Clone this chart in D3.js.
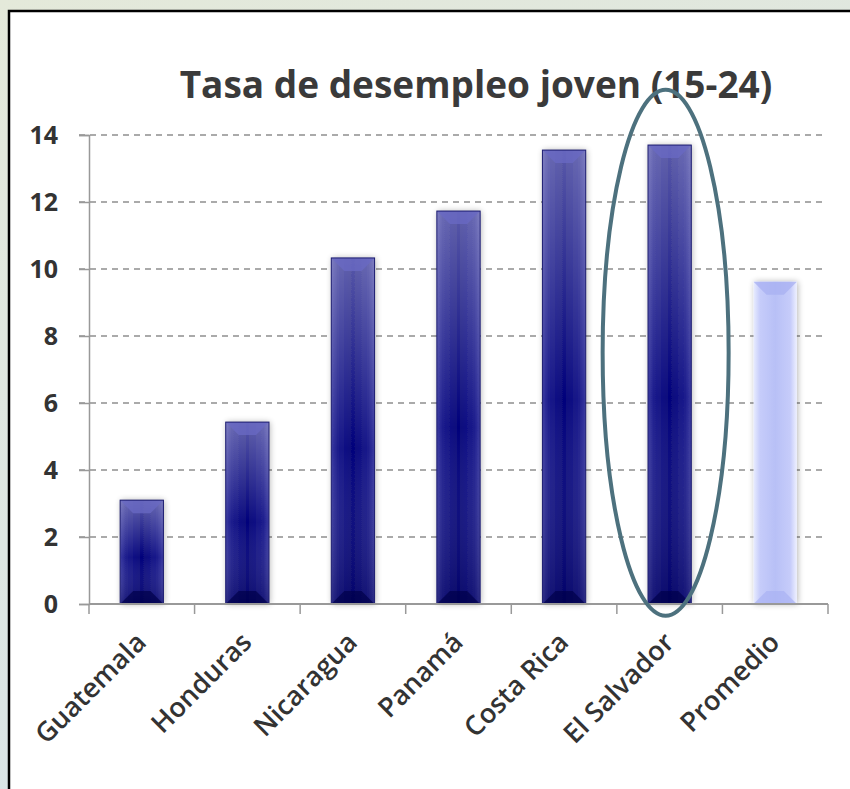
<!DOCTYPE html>
<html>
<head>
<meta charset="utf-8">
<script src="https://cdn.jsdelivr.net/npm/d3@7"></script>
<style>
  html, body { margin: 0; padding: 0; }
  body { width: 850px; height: 789px; overflow: hidden;
    background: linear-gradient(160deg, #e4e9da 0%, #dde6e2 50%, #d6e3ea 100%); }
  svg { display: block; }
</style>
</head>
<body>
<div id="chart-area"></div>
<script>
// data
const countries = ["Guatemala", "Honduras", "Nicaragua", "Panamá", "Costa Rica", "El Salvador", "Promedio"]
const rates = [3.1, 5.43, 10.33, 11.73, 13.55, 13.7, 9.62]
const yTicks = [0, 2, 4, 6, 8, 10, 12, 14]
const highlight = "El Salvador"

const W = 850, H = 789
const MARGIN = { LEFT: 89, RIGHT: 22, TOP: 135, BOTTOM: 185 }
const WIDTH = W - MARGIN.LEFT - MARGIN.RIGHT
const HEIGHT = H - MARGIN.TOP - MARGIN.BOTTOM

const svg = d3.select("#chart-area").append("svg")
	.attr("width", W)
	.attr("height", H)

const defs = svg.append("defs")

// bar gradients (dark navy bevel)
const gH = defs.append("linearGradient").attr("id", "barH")
gH.append("stop").attr("offset", "0%").attr("stop-color", "#3a3aa0")
gH.append("stop").attr("offset", "14%").attr("stop-color", "#1c1c8c")
gH.append("stop").attr("offset", "50%").attr("stop-color", "#04047a")
gH.append("stop").attr("offset", "86%").attr("stop-color", "#1c1c8c")
gH.append("stop").attr("offset", "100%").attr("stop-color", "#3a3aa0")

const gV = defs.append("linearGradient").attr("id", "barV")
	.attr("x1", 0).attr("y1", 0).attr("x2", 0).attr("y2", 1)
gV.append("stop").attr("offset", "0%").attr("stop-color", "#ffffff").attr("stop-opacity", 0.35)
gV.append("stop").attr("offset", "55%").attr("stop-color", "#ffffff").attr("stop-opacity", 0.0)
gV.append("stop").attr("offset", "100%").attr("stop-color", "#000030").attr("stop-opacity", 0.25)

const gP = defs.append("linearGradient").attr("id", "barP")
gP.append("stop").attr("offset", "0%").attr("stop-color", "#e8ecff")
gP.append("stop").attr("offset", "15%").attr("stop-color", "#c6ccfa")
gP.append("stop").attr("offset", "50%").attr("stop-color", "#b8c0f6")
gP.append("stop").attr("offset", "85%").attr("stop-color", "#c6ccfa")
gP.append("stop").attr("offset", "100%").attr("stop-color", "#eef0ff")

const shadow = defs.append("filter").attr("id", "shadow")
	.attr("x", "-30%").attr("y", "-5%").attr("width", "160%").attr("height", "110%")
shadow.append("feGaussianBlur").attr("in", "SourceAlpha").attr("stdDeviation", 3)
shadow.append("feOffset").attr("dx", 1).attr("dy", 0).attr("result", "b")
shadow.append("feComponentTransfer").append("feFuncA").attr("type", "linear").attr("slope", 0.3)
const merge = shadow.append("feMerge")
merge.append("feMergeNode")
merge.append("feMergeNode").attr("in", "SourceGraphic")

// white panel with black frame
svg.append("rect")
	.attr("x", 9).attr("y", 11)
	.attr("width", W + 20).attr("height", H + 20)
	.attr("fill", "#fff")
	.attr("stroke", "#000")
	.attr("stroke-width", 2.5)

const FONT = "'Open Sans', Lato, sans-serif"

// title
svg.append("text")
	.attr("x", 476).attr("y", 98)
	.attr("text-anchor", "middle")
	.attr("font-family", FONT)
	.attr("font-weight", "bold")
	.attr("font-size", 37)
	.attr("fill", "#3a3a3a")
	.text("Tasa de desempleo joven (15-24)")

const g = svg.append("g")
	.attr("transform", `translate(${MARGIN.LEFT}, ${MARGIN.TOP})`)

// scales
const x = d3.scaleBand().domain(countries).range([0, WIDTH]).paddingInner(0.59).paddingOuter(0.295)
const xTicks = d3.scaleBand().domain(countries).range([0, WIDTH])
const y = d3.scaleLinear().domain([0, 14]).range([HEIGHT, 0])

// gridlines
g.append("g").selectAll("line")
	.data(yTicks.filter(d => d > 0))
	.join("line")
	.attr("x1", -10).attr("x2", WIDTH - 3)
	.attr("y1", d => y(d)).attr("y2", d => y(d))
	.attr("stroke", "#8f8f8f")
	.attr("stroke-width", 1.5)
	.attr("stroke-dasharray", "6,5")

// y axis
const yAxis = g.append("g")
	.call(d3.axisLeft(y).tickValues(yTicks).tickSize(10).tickPadding(21))
yAxis.select(".domain").attr("stroke", "#999").attr("stroke-width", 1.5)
yAxis.selectAll(".tick line").attr("stroke", "#999").attr("stroke-width", 1.5)
yAxis.selectAll("text")
	.attr("font-family", FONT).attr("font-weight", "bold")
	.attr("font-size", 25).attr("fill", "#333")

// bars
const bars = g.append("g").selectAll("g.bar")
	.data(countries.map((c, i) => ({ c, v: rates[i] })))
	.join("g")
	.attr("class", "bar")

bars.append("rect")
	.attr("x", d => x(d.c)).attr("y", d => y(d.v))
	.attr("width", x.bandwidth()).attr("height", d => HEIGHT - y(d.v))
	.attr("fill", d => d.c === "Promedio" ? "url(#barP)" : "url(#barH)")
	.attr("filter", "url(#shadow)")

bars.filter(d => d.c !== "Promedio").append("rect")
	.attr("x", d => x(d.c)).attr("y", d => y(d.v))
	.attr("width", x.bandwidth()).attr("height", d => HEIGHT - y(d.v))
	.attr("fill", "url(#barV)")

// top bevel
const bev = 13
bars.append("path")
	.attr("d", d => {
		const x0 = x(d.c), x1 = x0 + x.bandwidth(), t = y(d.v)
		return `M${x0},${t}L${x1},${t}L${x1 - bev},${t + bev}L${x0 + bev},${t + bev}Z`
	})
	.attr("fill", d => d.c === "Promedio" ? "#a8b0f2" : "#6a6ac4")
	.attr("opacity", 0.75)

// bottom bevel
bars.append("path")
	.attr("d", d => {
		const x0 = x(d.c), x1 = x0 + x.bandwidth(), b = HEIGHT
		return `M${x0},${b}L${x1},${b}L${x1 - bev},${b - bev}L${x0 + bev},${b - bev}Z`
	})
	.attr("fill", d => d.c === "Promedio" ? "#aab2f4" : "#00004a")
	.attr("opacity", 0.7)

bars.filter(d => d.c !== "Promedio").append("rect")
	.attr("x", d => x(d.c)).attr("y", d => y(d.v))
	.attr("width", x.bandwidth()).attr("height", d => HEIGHT - y(d.v))
	.attr("fill", "none").attr("stroke", "#1c1c70").attr("stroke-width", 1)

// x axis
const xAxis = g.append("g")
	.attr("transform", `translate(0, ${HEIGHT})`)
xAxis.append("line")
	.attr("x1", 0).attr("x2", WIDTH)
	.attr("stroke", "#999").attr("stroke-width", 2)
xAxis.selectAll("line.tick")
	.data(countries.concat(["end"]))
	.join("line")
	.attr("class", "tick")
	.attr("x1", (d, i) => i * xTicks.step()).attr("x2", (d, i) => i * xTicks.step())
	.attr("y1", 0).attr("y2", 10)
	.attr("stroke", "#999").attr("stroke-width", 1.5)

xAxis.selectAll("text")
	.data(countries)
	.join("text")
	.attr("transform", d => `translate(${x(d) + x.bandwidth() / 2 + 6}, 40) rotate(-45)`)
	.attr("text-anchor", "end")
	.attr("font-family", FONT).attr("font-weight", 600)
	.attr("font-size", 27).attr("fill", "#333")
	.text(d => d)

// highlight ellipse around El Salvador
const hx = x(highlight) + x.bandwidth() / 2
g.append("ellipse")
	.attr("cx", hx - 4)
	.attr("cy", y(7.5))
	.attr("rx", 63)
	.attr("ry", 263)
	.attr("fill", "none")
	.attr("stroke", "#4d717e")
	.attr("stroke-width", 4)
</script>
</body>
</html>
